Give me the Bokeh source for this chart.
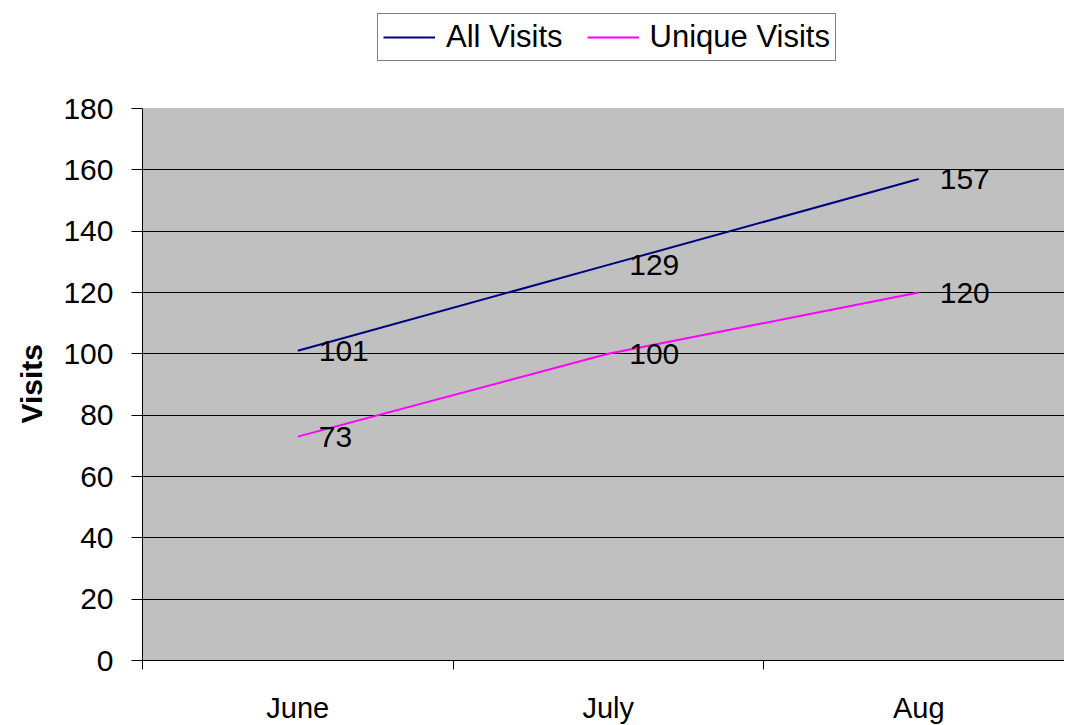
from bokeh.plotting import figure
from bokeh.models import ColumnDataSource, FixedTicker, Legend, LegendItem, Range1d, BoxAnnotation, Title
from bokeh.core.properties import value
from bokeh.embed import file_html
from bokeh.resources import INLINE

months = ["June", "July", "Aug"]
all_visits = [101, 129, 157]
unique_visits = [73, 100, 120]
y_ticks = [0, 20, 40, 60, 80, 100, 120, 140, 160, 180]

FONT = "Liberation Sans"
xpos = [i + 0.5 for i in range(len(months))]

src_all = ColumnDataSource(dict(x=xpos, y=all_visits, t=[str(v) for v in all_visits]))
src_uni = ColumnDataSource(dict(x=xpos, y=unique_visits, t=[str(v) for v in unique_visits]))

PX_PER_UNIT = 552 / 180.0      # plot area 552 px tall for 0..180
FRAME_TOP = 10                 # frame extends up to hold the legend
FRAME_H = 660 - FRAME_TOP
FRAME_W = 922
Y_MAX = y_ticks[-1]

p = figure(frame_width=FRAME_W, frame_height=FRAME_H, output_backend="svg", toolbar_location=None,
           x_range=Range1d(0, FRAME_W / 310.5), y_range=Range1d(0, FRAME_H / PX_PER_UNIT),
           min_border_left=142, min_border_right=0, min_border_top=FRAME_TOP, min_border_bottom=0)

p.border_fill_color = "white"
p.background_fill_color = "white"
p.outline_line_color = None

# grey plot area from 0 to 180
area = BoxAnnotation(bottom=0, top=Y_MAX, fill_color="#C0C0C0", fill_alpha=1,
                     line_color="#808080", line_width=1, level="image")
p.add_layout(area)

r_all = p.line("x", "y", source=src_all, line_color="#000080", line_width=2)
r_uni = p.line("x", "y", source=src_uni, line_color="#FF00FF", line_width=2)

for src in (src_all, src_uni):
    p.text("x", "y", text="t", source=src, x_offset=21, text_baseline="middle",
           text_align="left", text_font=value(FONT), text_font_size="30px",
           text_color="black")

# axes
p.xaxis.ticker = FixedTicker(ticks=xpos, minor_ticks=[0, 1, 2, 3])
p.xaxis.major_label_overrides = {x: m for x, m in zip(xpos, months)}
p.xaxis.major_tick_line_color = None
p.xaxis.minor_tick_line_color = "black"
p.xaxis.minor_tick_out = 9
p.xaxis.minor_tick_in = 0
p.xaxis.major_label_standoff = 22
p.xaxis.axis_line_color = "black"
p.xaxis.major_label_text_font = FONT
p.xaxis.major_label_text_font_size = "29px"
p.xaxis.major_label_text_color = "black"

p.yaxis.bounds = (0, Y_MAX)
p.yaxis.ticker = FixedTicker(ticks=y_ticks, minor_ticks=[])
p.yaxis.major_tick_out = 11
p.yaxis.major_tick_in = 0
p.yaxis.major_tick_line_color = "black"
p.yaxis.axis_line_color = "black"
p.yaxis.major_label_standoff = 18
p.yaxis.major_label_text_font = FONT
p.yaxis.major_label_text_font_size = "30px"
p.yaxis.major_label_text_color = "black"

# y axis title, placed alongside the 0..180 plot area
ytitle = Title(text="Visits", text_font=FONT, text_font_style="bold", text_font_size="30px",
               text_color="black", align="left", offset=237, standoff=25)
p.add_layout(ytitle, "left")

p.xgrid.grid_line_color = None
p.ygrid.ticker = FixedTicker(ticks=y_ticks[1:-1])
p.ygrid.grid_line_color = "black"
p.ygrid.grid_line_width = 1

legend = Legend(items=[LegendItem(label="All Visits", renderers=[r_all]),
                       LegendItem(label="Unique Visits", renderers=[r_uni])],
                orientation="horizontal", location=(235, 660 - 61))
legend.border_line_color = "black"
legend.border_line_width = 1
legend.background_fill_color = "white"
legend.background_fill_alpha = 1
legend.label_text_font = FONT
legend.label_text_font_size = "31px"
legend.label_text_color = "black"
legend.glyph_width = 52
legend.label_standoff = 11
legend.spacing = 24
legend.padding = 5
legend.margin = 0
p.add_layout(legend, "center")

open("out.html", "w").write(file_html(p, INLINE))
